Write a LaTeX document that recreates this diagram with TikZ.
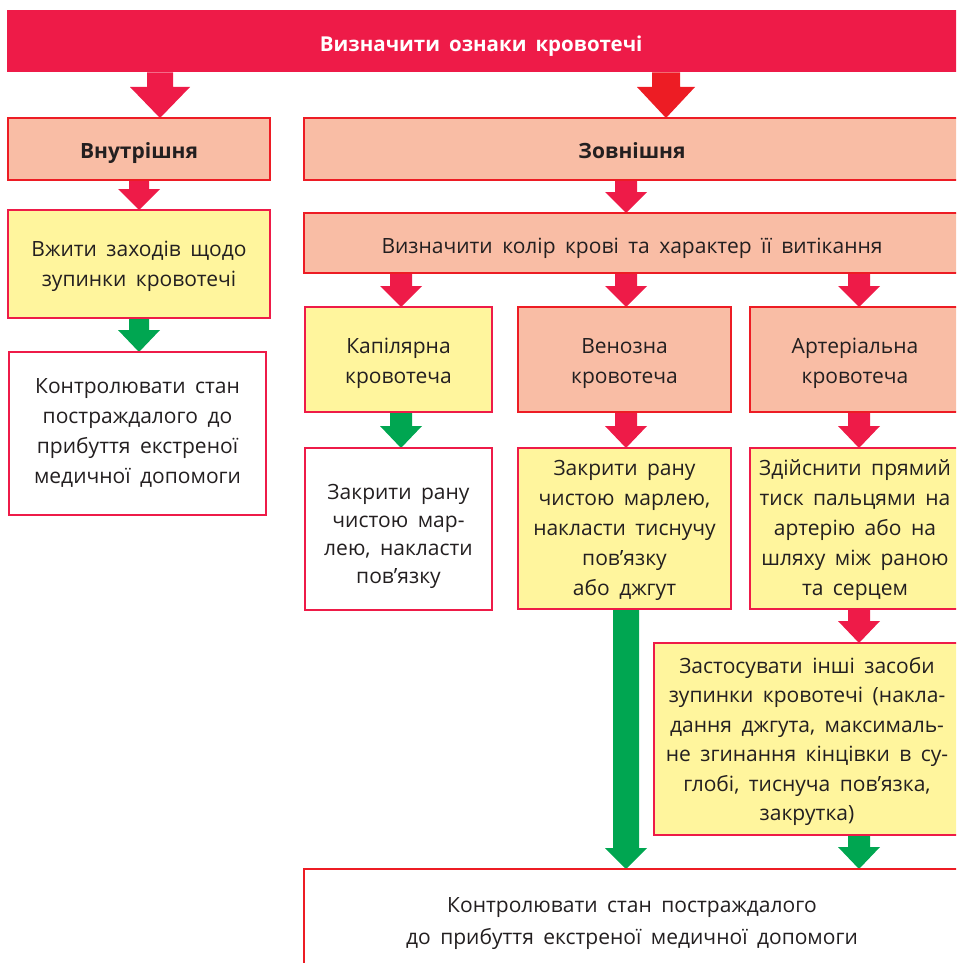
\documentclass[tikz,border=0pt]{standalone}
\usepackage{fontspec}
\setmainfont{Open Sans}
\usetikzlibrary{calc}
\definecolor{crim}{HTML}{EE1B48}
\definecolor{redb}{HTML}{ED1C24}
\definecolor{salm}{HTML}{F9BDA5}
\definecolor{yel}{HTML}{FFF59D}
\definecolor{grn}{HTML}{00A651}
\definecolor{txt}{HTML}{231F20}
\pgfdeclarelayer{bg}
\pgfsetlayers{bg,main}
\newcommand\blockarr[6]{%
  \fill[#1] let \p1=(#2), \p2=(#3) in
   (\x1-#4pt,\y1) -- (\x1-#4pt,\y2+#6pt) -- (\x1-#5pt,\y2+#6pt) -- (\x1,\y2)
   -- (\x1+#5pt,\y2+#6pt) -- (\x1+#4pt,\y2+#6pt) -- (\x1+#4pt,\y1) -- cycle;}
\newcommand\bodyfont{\fontsize{21}{30}\selectfont\spaceskip=9.5pt plus 1pt\relax}
\newcommand\kapfont{\fontsize{21}{28}\selectfont\spaceskip=9.5pt plus 1pt\relax}
\newcommand\zasfont{\fontsize{21}{29.4}\selectfont\spaceskip=9.5pt plus 1pt\relax}
\newcommand\botfont{\fontsize{21}{32}\selectfont\spaceskip=9.5pt plus 1pt\relax}
\newcommand\topfont{\fontsize{20.5}{24}\selectfont\bfseries\spaceskip=9pt\relax}
\tikzset{
  box/.style={draw=#1, line width=2.6pt, align=center, text=txt,
    font=\bodyfont, inner sep=0pt, outer sep=0pt, anchor=north west},
  box/.default=crim,
  sbox/.style={box=redb, fill=salm},
  ybox/.style={box=crim, fill=yel},
  wbox/.style={box=crim, fill=white},
  th/.style={text height=#1, text depth=0pt},
}
\begin{document}
\begin{tikzpicture}[x=1pt,y=-1pt]
\useasboundingbox (0,0) rectangle (956,963);
\clip (0,0) rectangle (956,963);
% top bar
\node[fill=crim, text=white, font=\topfont, th=20pt, minimum width=954pt, minimum height=62pt, inner sep=0pt, anchor=north west] (top) at (7,10) {\hspace*{-6pt}Визначити ознаки кровотечі};
% level 1
\node[sbox, th=18pt, minimum width=262pt, minimum height=62pt, font=\bodyfont\bfseries] (vn) at (8,118) {Внутрішня};
\node[sbox, th=18pt, minimum width=656pt, minimum height=62pt, font=\bodyfont\bfseries] (zn) at (304,118) {Зовнішня};
% left column
\node[ybox, th=45pt, minimum width=262pt, minimum height=108pt] (zup) at (8,210) {Вжити заходів щодо\\зупинки кровотечі};
\node[wbox, text depth=5pt, minimum width=257pt, minimum height=163pt] (kon1) at (9,352) {Контролювати стан\\постраждалого до\\прибуття екстреної\\медичної допомоги};
% colour box
\node[sbox, th=20pt, minimum width=656pt, minimum height=60pt] (kol) at (304,213) {Визначити колір крові та характер її витікання};
% types
\node[ybox, th=48pt, minimum width=187pt, minimum height=105pt] (kap) at (305,307) {Капілярна\\кровотеча};
\node[sbox, th=48pt, minimum width=213pt, minimum height=105pt] (ven) at (518,307) {Венозна\\кровотеча};
\node[sbox, th=48pt, minimum width=210pt, minimum height=105pt] (art) at (750,307) {Артеріальна\\кровотеча};
% actions
\node[wbox, th=109pt, minimum width=187pt, minimum height=162pt, font=\kapfont] (kap2) at (305,448) {Закрити рану\\чистою мар-\\лею, накласти\\пов’язку};
\node[ybox, th=134pt, minimum width=213pt, minimum height=161pt] (ven2) at (518,448) {Закрити рану\\чистою марлею,\\накласти тиснучу\\пов’язку\\або джгут};
\node[ybox, th=134pt, minimum width=210pt, minimum height=161pt] (art2) at (750,448) {Здійснити прямий\\тиск пальцями на\\артерію або на\\шляху між раною\\та серцем};
\node[ybox, th=163pt, minimum width=306pt, minimum height=192pt, font=\zasfont] (zas) at (654,643) {Застосувати інші засоби\\зупинки кровотечі (накла-\\дання джгута, максималь-\\не згинання кінцівки в су-\\глобі, тиснуча пов’язка,\\закрутка)};
\node[box=redb, fill=white, th=46pt, font=\botfont, minimum width=656pt, minimum height=104pt] (bot) at (304,869) {Контролювати стан постраждалого\\до прибуття екстреної медичної допомоги};
% arrow x positions
\coordinate (x1) at (160,0);
\coordinate (x2) at (666,0);
\coordinate (x3) at (139,0);
\coordinate (x4) at (626,0);
\coordinate (x5) at (401,0);
\coordinate (x6) at (859,0);
\begin{pgfonlayer}{bg}
\blockarr{crim}{top.south -| x1}{vn.north -| x1}{13}{30}{31}
\blockarr{redb}{top.south -| x2}{zn.north -| x2}{14}{29}{31}
\blockarr{crim}{vn.south -| x3}{zup.north -| x3}{10}{21}{21}
\blockarr{grn}{zup.south -| x3}{kon1.north -| x3}{10}{21}{22}
\blockarr{crim}{zn.south -| x4}{kol.north -| x4}{11}{21}{21}
\blockarr{crim}{kol.south -| x5}{kap.north -| x5}{11}{21}{21}
\blockarr{crim}{kol.south -| x4}{ven.north -| x4}{11}{21}{21}
\blockarr{crim}{kol.south -| x6}{art.north -| x6}{11}{21}{21}
\blockarr{grn}{kap.south -| x5}{kap2.north -| x5}{11}{21}{22}
\blockarr{crim}{ven.south -| x4}{ven2.north -| x4}{11}{21}{22}
\blockarr{crim}{art.south -| x6}{art2.north -| x6}{11}{21}{22}
\blockarr{grn}{ven2.south -| x4}{bot.north -| x4}{13}{21}{21}
\blockarr{crim}{art2.south -| x6}{zas.north -| x6}{11}{21}{22}
\blockarr{grn}{zas.south -| x6}{bot.north -| x6}{11}{21}{22}
\end{pgfonlayer}
\end{tikzpicture}
\end{document}
